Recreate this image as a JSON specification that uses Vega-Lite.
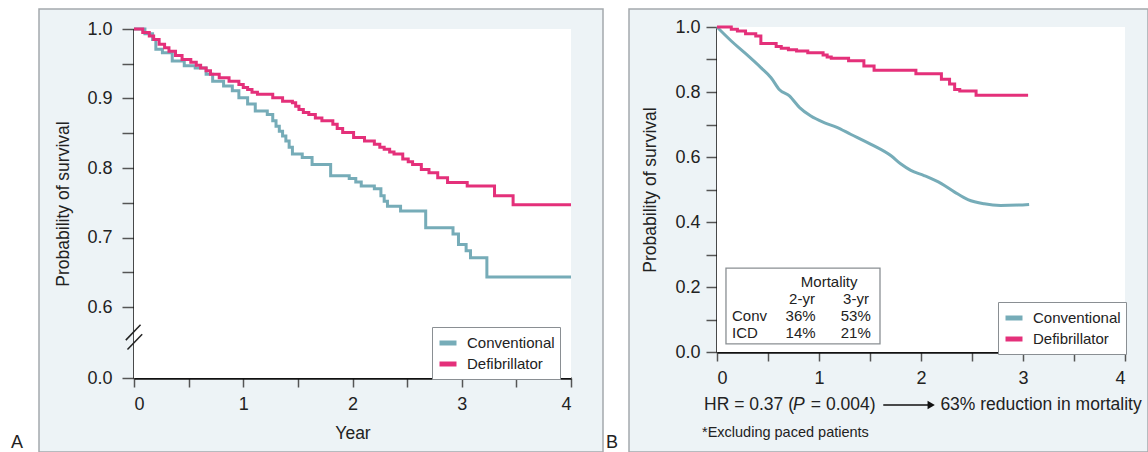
{
 "$schema": "https://vega.github.io/schema/vega-lite/v6.json",
 "padding": {"left": 10, "top": 8, "right": 0, "bottom": 0},
 "bounds": "flush",
 "spacing": 26,
 "background": "white",
 "config": {
  "font": "Liberation Sans",
  "view": {"fill": "#edf3f6", "stroke": "#a4a9ad", "strokeWidth": 1.5},
  "axis": {"domainColor": "#111", "domainWidth": 2.5, "tickColor": "#555", "tickWidth": 1.5, "grid": false, "labelFontSize": 18, "labelColor": "#222", "titleFontSize": 17.5, "titleFontWeight": "normal", "titleColor": "#222", "zindex": 1, "labelFont": "Liberation Sans", "titleFont": "Liberation Sans"},
  "legend": {"fillColor": "white", "strokeColor": "#8a8f93", "padding": 5, "labelFontSize": 15, "labelColor": "#222", "symbolType": "stroke", "symbolStrokeWidth": 5, "symbolSize": 289, "rowPadding": 0, "labelOffset": 8, "labelFont": "Liberation Sans"},
  "text": {"color": "#222", "font": "Liberation Sans"}
 },
 "resolve": {"scale": {"color": "independent"}, "legend": {"color": "independent"}},
 "datasets": {
  "left": [
   {"t":0,"S":1.0,"group":"Conventional"},{"t":0.10,"S":0.993,"group":"Conventional"},{"t":0.17,"S":0.985,"group":"Conventional"},{"t":0.20,"S":0.971,"group":"Conventional"},{"t":0.26,"S":0.966,"group":"Conventional"},{"t":0.35,"S":0.954,"group":"Conventional"},{"t":0.46,"S":0.947,"group":"Conventional"},{"t":0.56,"S":0.944,"group":"Conventional"},{"t":0.66,"S":0.935,"group":"Conventional"},{"t":0.72,"S":0.925,"group":"Conventional"},{"t":0.82,"S":0.918,"group":"Conventional"},{"t":0.90,"S":0.911,"group":"Conventional"},{"t":0.96,"S":0.901,"group":"Conventional"},{"t":1.04,"S":0.892,"group":"Conventional"},{"t":1.11,"S":0.882,"group":"Conventional"},{"t":1.22,"S":0.877,"group":"Conventional"},{"t":1.27,"S":0.868,"group":"Conventional"},{"t":1.30,"S":0.860,"group":"Conventional"},{"t":1.33,"S":0.853,"group":"Conventional"},{"t":1.36,"S":0.846,"group":"Conventional"},{"t":1.39,"S":0.839,"group":"Conventional"},{"t":1.42,"S":0.830,"group":"Conventional"},{"t":1.45,"S":0.820,"group":"Conventional"},{"t":1.54,"S":0.815,"group":"Conventional"},{"t":1.63,"S":0.805,"group":"Conventional"},{"t":1.80,"S":0.789,"group":"Conventional"},{"t":1.97,"S":0.785,"group":"Conventional"},{"t":2.03,"S":0.780,"group":"Conventional"},{"t":2.08,"S":0.774,"group":"Conventional"},{"t":2.20,"S":0.770,"group":"Conventional"},{"t":2.26,"S":0.760,"group":"Conventional"},{"t":2.29,"S":0.752,"group":"Conventional"},{"t":2.32,"S":0.745,"group":"Conventional"},{"t":2.44,"S":0.738,"group":"Conventional"},{"t":2.67,"S":0.714,"group":"Conventional"},{"t":2.92,"S":0.705,"group":"Conventional"},{"t":2.97,"S":0.690,"group":"Conventional"},{"t":3.04,"S":0.681,"group":"Conventional"},{"t":3.08,"S":0.671,"group":"Conventional"},{"t":3.23,"S":0.643,"group":"Conventional"},{"t":4.0,"S":0.643,"group":"Conventional"},
   {"t":0,"S":1.0,"group":"Defibrillator"},{"t":0.08,"S":0.995,"group":"Defibrillator"},{"t":0.14,"S":0.99,"group":"Defibrillator"},{"t":0.18,"S":0.985,"group":"Defibrillator"},{"t":0.23,"S":0.978,"group":"Defibrillator"},{"t":0.28,"S":0.973,"group":"Defibrillator"},{"t":0.32,"S":0.968,"group":"Defibrillator"},{"t":0.38,"S":0.962,"group":"Defibrillator"},{"t":0.44,"S":0.956,"group":"Defibrillator"},{"t":0.52,"S":0.952,"group":"Defibrillator"},{"t":0.57,"S":0.948,"group":"Defibrillator"},{"t":0.61,"S":0.944,"group":"Defibrillator"},{"t":0.66,"S":0.940,"group":"Defibrillator"},{"t":0.70,"S":0.935,"group":"Defibrillator"},{"t":0.78,"S":0.930,"group":"Defibrillator"},{"t":0.87,"S":0.925,"group":"Defibrillator"},{"t":0.96,"S":0.920,"group":"Defibrillator"},{"t":1.00,"S":0.916,"group":"Defibrillator"},{"t":1.04,"S":0.913,"group":"Defibrillator"},{"t":1.08,"S":0.909,"group":"Defibrillator"},{"t":1.13,"S":0.906,"group":"Defibrillator"},{"t":1.27,"S":0.901,"group":"Defibrillator"},{"t":1.36,"S":0.896,"group":"Defibrillator"},{"t":1.45,"S":0.894,"group":"Defibrillator"},{"t":1.48,"S":0.889,"group":"Defibrillator"},{"t":1.51,"S":0.884,"group":"Defibrillator"},{"t":1.55,"S":0.880,"group":"Defibrillator"},{"t":1.60,"S":0.877,"group":"Defibrillator"},{"t":1.66,"S":0.872,"group":"Defibrillator"},{"t":1.72,"S":0.868,"group":"Defibrillator"},{"t":1.82,"S":0.863,"group":"Defibrillator"},{"t":1.86,"S":0.857,"group":"Defibrillator"},{"t":1.91,"S":0.851,"group":"Defibrillator"},{"t":2.01,"S":0.844,"group":"Defibrillator"},{"t":2.11,"S":0.839,"group":"Defibrillator"},{"t":2.20,"S":0.834,"group":"Defibrillator"},{"t":2.25,"S":0.830,"group":"Defibrillator"},{"t":2.29,"S":0.827,"group":"Defibrillator"},{"t":2.34,"S":0.823,"group":"Defibrillator"},{"t":2.38,"S":0.820,"group":"Defibrillator"},{"t":2.46,"S":0.813,"group":"Defibrillator"},{"t":2.51,"S":0.809,"group":"Defibrillator"},{"t":2.55,"S":0.805,"group":"Defibrillator"},{"t":2.63,"S":0.798,"group":"Defibrillator"},{"t":2.70,"S":0.793,"group":"Defibrillator"},{"t":2.78,"S":0.786,"group":"Defibrillator"},{"t":2.87,"S":0.779,"group":"Defibrillator"},{"t":3.05,"S":0.774,"group":"Defibrillator"},{"t":3.30,"S":0.760,"group":"Defibrillator"},{"t":3.47,"S":0.747,"group":"Defibrillator"},{"t":4.0,"S":0.747,"group":"Defibrillator"}
  ],
  "rightConv": [
   {"t":0,"S":1.0,"group":"Conventional"},{"t":0.14,"S":0.957,"group":"Conventional"},{"t":0.27,"S":0.921,"group":"Conventional"},{"t":0.43,"S":0.875,"group":"Conventional"},{"t":0.53,"S":0.844,"group":"Conventional"},{"t":0.61,"S":0.808,"group":"Conventional"},{"t":0.71,"S":0.788,"group":"Conventional"},{"t":0.81,"S":0.752,"group":"Conventional"},{"t":0.92,"S":0.726,"group":"Conventional"},{"t":1.05,"S":0.706,"group":"Conventional"},{"t":1.17,"S":0.692,"group":"Conventional"},{"t":1.31,"S":0.670,"group":"Conventional"},{"t":1.51,"S":0.639,"group":"Conventional"},{"t":1.71,"S":0.603,"group":"Conventional"},{"t":1.80,"S":0.579,"group":"Conventional"},{"t":1.90,"S":0.559,"group":"Conventional"},{"t":2.03,"S":0.543,"group":"Conventional"},{"t":2.20,"S":0.518,"group":"Conventional"},{"t":2.33,"S":0.492,"group":"Conventional"},{"t":2.46,"S":0.469,"group":"Conventional"},{"t":2.62,"S":0.456,"group":"Conventional"},{"t":2.78,"S":0.451,"group":"Conventional"},{"t":2.95,"S":0.452,"group":"Conventional"},{"t":3.06,"S":0.454,"group":"Conventional"}
  ],
  "rightDef": [
   {"t":0,"S":1.0,"group":"Defibrillator"},{"t":0.14,"S":0.993,"group":"Defibrillator"},{"t":0.20,"S":0.988,"group":"Defibrillator"},{"t":0.28,"S":0.979,"group":"Defibrillator"},{"t":0.38,"S":0.972,"group":"Defibrillator"},{"t":0.43,"S":0.949,"group":"Defibrillator"},{"t":0.58,"S":0.940,"group":"Defibrillator"},{"t":0.63,"S":0.935,"group":"Defibrillator"},{"t":0.70,"S":0.930,"group":"Defibrillator"},{"t":0.78,"S":0.926,"group":"Defibrillator"},{"t":0.89,"S":0.921,"group":"Defibrillator"},{"t":1.04,"S":0.914,"group":"Defibrillator"},{"t":1.08,"S":0.908,"group":"Defibrillator"},{"t":1.12,"S":0.904,"group":"Defibrillator"},{"t":1.29,"S":0.896,"group":"Defibrillator"},{"t":1.44,"S":0.880,"group":"Defibrillator"},{"t":1.54,"S":0.867,"group":"Defibrillator"},{"t":1.95,"S":0.856,"group":"Defibrillator"},{"t":2.20,"S":0.839,"group":"Defibrillator"},{"t":2.28,"S":0.825,"group":"Defibrillator"},{"t":2.33,"S":0.808,"group":"Defibrillator"},{"t":2.38,"S":0.803,"group":"Defibrillator"},{"t":2.54,"S":0.790,"group":"Defibrillator"},{"t":3.05,"S":0.790,"group":"Defibrillator"}
  ],
  "one": [{}]
 },
 "hconcat": [
  {
   "width": 564, "height": 443,
   "layer": [
    {"data": {"name": "one"}, "mark": {"type": "rect", "fill": "white"},
     "encoding": {
      "x": {"datum": 0, "type": "quantitative", "title": "Year",
            "scale": {"domain": [0, 4], "range": [95, 532], "nice": false, "zero": false},
            "axis": {"values": [0,0.5,1,1.5,2,2.5,3,3.5,4], "labelExpr": "datum.value % 1 == 0 ? format(datum.value, 'd') : ''", "offset": -74, "tickSize": 9, "labelPadding": 8, "titlePadding": 11}},
      "x2": {"datum": 4},
      "y": {"datum": 0, "type": "quantitative", "title": "Probability of survival",
            "scale": {"domain": [0, 0.6, 1], "range": [369, 298, 20], "nice": false, "zero": false},
            "axis": {"values": [0,0.6,0.65,0.7,0.75,0.8,0.85,0.9,0.95,1], "labelExpr": "(datum.value == 0.65 || datum.value == 0.75 || datum.value == 0.85 || datum.value == 0.95) ? '' : format(datum.value, '.1f')", "offset": -95, "tickSize": 12, "labelPadding": 10, "titlePadding": 14}},
      "y2": {"datum": 1}
     }},
    {"data": {"name": "left"}, "mark": {"type": "line", "interpolate": "step-after", "strokeWidth": 3},
     "encoding": {
      "x": {"field": "t", "type": "quantitative", "title": "Year"},
      "y": {"field": "S", "type": "quantitative", "title": "Probability of survival"},
      "color": {"field": "group", "type": "nominal", "scale": {"domain": ["Conventional", "Defibrillator"], "range": ["#76acb8", "#e4307a"]}, "legend": {"title": null, "orient": "none", "legendX": 393, "legendY": 318}}
     }},
    {"data": {"name": "one"}, "mark": {"type": "rule", "color": "#222", "strokeWidth": 1.5},
     "encoding": {"x": {"datum": -0.075, "type": "quantitative", "title": "Year"}, "x2": {"datum": 0.06}, "y": {"datum": 0.32, "type": "quantitative", "title": "Probability of survival"}, "y2": {"datum": 0.45}}},
    {"data": {"name": "one"}, "mark": {"type": "rule", "color": "#222", "strokeWidth": 1.5},
     "encoding": {"x": {"datum": -0.06, "type": "quantitative", "title": "Year"}, "x2": {"datum": 0.075}, "y": {"datum": 0.24, "type": "quantitative", "title": "Probability of survival"}, "y2": {"datum": 0.37}}},
    {"data": {"name": "one"}, "mark": {"type": "text", "align": "left", "baseline": "middle", "fontSize": 18},
     "encoding": {"x": {"datum": -1.126, "type": "quantitative", "title": "Year"}, "y": {"datum": -0.55, "type": "quantitative", "title": "Probability of survival"}, "text": {"value": "A"}}},
    {"data": {"name": "one"}, "mark": {"type": "text", "align": "left", "baseline": "middle", "fontSize": 18},
     "encoding": {"x": {"datum": 4.32, "type": "quantitative", "title": "Year"}, "y": {"datum": -0.55, "type": "quantitative", "title": "Probability of survival"}, "text": {"value": "B"}}}
   ]
  },
  {
   "width": 519, "height": 443,
   "layer": [
    {"data": {"name": "one"}, "mark": {"type": "rect", "fill": "white"},
     "encoding": {
      "x": {"datum": 0, "type": "quantitative", "title": null,
            "scale": {"domain": [0, 4], "range": [88, 496], "nice": false, "zero": false},
            "axis": {"values": [0,0.5,1,1.5,2,2.5,3,3.5,4], "labelExpr": "datum.value % 1 == 0 ? format(datum.value, 'd') : ''", "offset": -100, "tickSize": 9, "labelPadding": 8, "title": null}},
      "x2": {"datum": 4},
      "y": {"datum": 0, "type": "quantitative", "title": "Probability of survival",
            "scale": {"domain": [0, 1], "range": [343, 18], "nice": false, "zero": false},
            "axis": {"values": [0,0.1,0.2,0.3,0.4,0.5,0.6,0.7,0.8,0.9,1], "labelExpr": "round(datum.value * 10) % 2 == 0 ? format(datum.value, '.1f') : ''", "offset": -88, "tickSize": 11, "labelPadding": 6, "titlePadding": 15}},
      "y2": {"datum": 1}
     }},
    {"data": {"name": "rightConv"}, "mark": {"type": "line", "interpolate": "monotone", "strokeWidth": 3},
     "encoding": {
      "x": {"field": "t", "type": "quantitative", "title": null},
      "y": {"field": "S", "type": "quantitative", "title": "Probability of survival"},
      "color": {"field": "group", "type": "nominal", "scale": {"domain": ["Conventional", "Defibrillator"], "range": ["#76acb8", "#e4307a"]}, "legend": {"title": null, "orient": "none", "legendX": 369, "legendY": 293}}
     }},
    {"data": {"name": "rightDef"}, "mark": {"type": "line", "interpolate": "step-after", "strokeWidth": 3},
     "encoding": {
      "x": {"field": "t", "type": "quantitative", "title": null},
      "y": {"field": "S", "type": "quantitative", "title": "Probability of survival"},
      "color": {"field": "group", "type": "nominal"}
     }},
    {"data": {"name": "one"}, "mark": {"type": "rect", "fill": "white", "stroke": "#8a8f93", "strokeWidth": 1.3},
     "encoding": {"x": {"datum": 0.088, "type": "quantitative", "title": null}, "x2": {"datum": 1.598}, "y": {"datum": 0.025, "type": "quantitative", "title": "Probability of survival"}, "y2": {"datum": 0.258}}},
    {"data": {"name": "one"}, "mark": {"type": "text", "align": "center", "baseline": "middle", "fontSize": 15},
     "encoding": {"x": {"datum": 1.10, "type": "quantitative", "title": null}, "y": {"datum": 0.215, "type": "quantitative", "title": "Probability of survival"}, "text": {"value": "Mortality"}}},
    {"data": {"name": "one"}, "mark": {"type": "text", "align": "center", "baseline": "middle", "fontSize": 15},
     "encoding": {"x": {"datum": 0.833, "type": "quantitative", "title": null}, "y": {"datum": 0.163, "type": "quantitative", "title": "Probability of survival"}, "text": {"value": "2-yr"}}},
    {"data": {"name": "one"}, "mark": {"type": "text", "align": "center", "baseline": "middle", "fontSize": 15},
     "encoding": {"x": {"datum": 1.363, "type": "quantitative", "title": null}, "y": {"datum": 0.163, "type": "quantitative", "title": "Probability of survival"}, "text": {"value": "3-yr"}}},
    {"data": {"name": "one"}, "mark": {"type": "text", "align": "left", "baseline": "middle", "fontSize": 15},
     "encoding": {"x": {"datum": 0.147, "type": "quantitative", "title": null}, "y": {"datum": 0.111, "type": "quantitative", "title": "Probability of survival"}, "text": {"value": "Conv"}}},
    {"data": {"name": "one"}, "mark": {"type": "text", "align": "center", "baseline": "middle", "fontSize": 15},
     "encoding": {"x": {"datum": 0.82, "type": "quantitative", "title": null}, "y": {"datum": 0.111, "type": "quantitative", "title": "Probability of survival"}, "text": {"value": "36%"}}},
    {"data": {"name": "one"}, "mark": {"type": "text", "align": "center", "baseline": "middle", "fontSize": 15},
     "encoding": {"x": {"datum": 1.36, "type": "quantitative", "title": null}, "y": {"datum": 0.111, "type": "quantitative", "title": "Probability of survival"}, "text": {"value": "53%"}}},
    {"data": {"name": "one"}, "mark": {"type": "text", "align": "left", "baseline": "middle", "fontSize": 15},
     "encoding": {"x": {"datum": 0.147, "type": "quantitative", "title": null}, "y": {"datum": 0.058, "type": "quantitative", "title": "Probability of survival"}, "text": {"value": "ICD"}}},
    {"data": {"name": "one"}, "mark": {"type": "text", "align": "center", "baseline": "middle", "fontSize": 15},
     "encoding": {"x": {"datum": 0.82, "type": "quantitative", "title": null}, "y": {"datum": 0.058, "type": "quantitative", "title": "Probability of survival"}, "text": {"value": "14%"}}},
    {"data": {"name": "one"}, "mark": {"type": "text", "align": "center", "baseline": "middle", "fontSize": 15},
     "encoding": {"x": {"datum": 1.36, "type": "quantitative", "title": null}, "y": {"datum": 0.058, "type": "quantitative", "title": "Probability of survival"}, "text": {"value": "21%"}}},
    {"data": {"name": "one"}, "mark": {"type": "text", "align": "left", "baseline": "middle", "fontSize": 17.5},
     "encoding": {"x": {"datum": -0.127, "type": "quantitative", "title": null}, "y": {"datum": -0.163, "type": "quantitative", "title": "Probability of survival"}, "text": {"value": "HR = 0.37 ("}}},
    {"data": {"name": "one"}, "mark": {"type": "text", "align": "left", "baseline": "middle", "fontSize": 17.5, "fontStyle": "italic"},
     "encoding": {"x": {"datum": 0.745, "type": "quantitative", "title": null}, "y": {"datum": -0.163, "type": "quantitative", "title": "Probability of survival"}, "text": {"value": "P"}}},
    {"data": {"name": "one"}, "mark": {"type": "text", "align": "left", "baseline": "middle", "fontSize": 17.5},
     "encoding": {"x": {"datum": 0.92, "type": "quantitative", "title": null}, "y": {"datum": -0.163, "type": "quantitative", "title": "Probability of survival"}, "text": {"value": "= 0.004)"}}},
    {"data": {"name": "one"}, "mark": {"type": "rule", "color": "#111", "strokeWidth": 1.6},
     "encoding": {"x": {"datum": 1.63, "type": "quantitative", "title": null}, "x2": {"datum": 2.07}, "y": {"datum": -0.163, "type": "quantitative", "title": "Probability of survival"}}},
    {"data": {"name": "one"}, "mark": {"type": "point", "shape": "triangle-right", "filled": true, "color": "#111", "size": 70, "opacity": 1},
     "encoding": {"x": {"datum": 2.1, "type": "quantitative", "title": null}, "y": {"datum": -0.163, "type": "quantitative", "title": "Probability of survival"}}},
    {"data": {"name": "one"}, "mark": {"type": "text", "align": "left", "baseline": "middle", "fontSize": 17.5},
     "encoding": {"x": {"datum": 2.19, "type": "quantitative", "title": null}, "y": {"datum": -0.163, "type": "quantitative", "title": "Probability of survival"}, "text": {"value": "63% reduction in mortality"}}},
    {"data": {"name": "one"}, "mark": {"type": "text", "align": "left", "baseline": "middle", "fontSize": 14.5},
     "encoding": {"x": {"datum": -0.147, "type": "quantitative", "title": null}, "y": {"datum": -0.25, "type": "quantitative", "title": "Probability of survival"}, "text": {"value": "*Excluding paced patients"}}}
   ]
  }
 ]
}
